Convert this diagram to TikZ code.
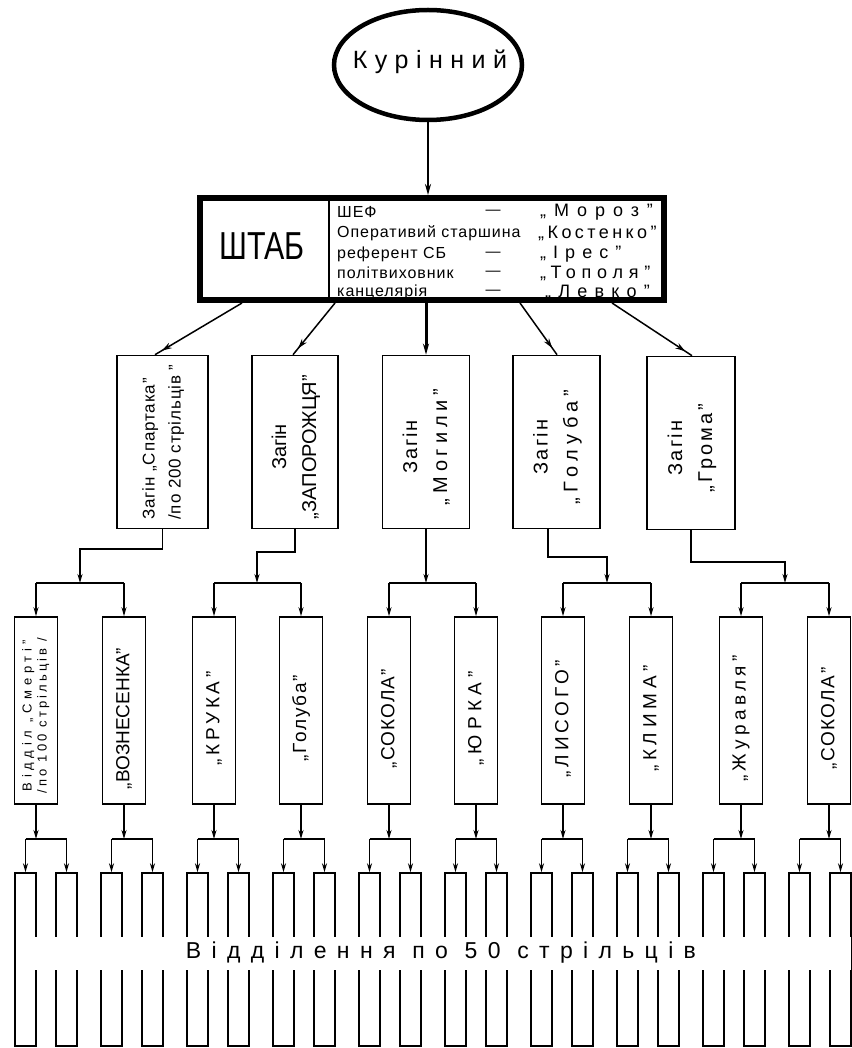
\documentclass[tikz,border=0pt]{standalone}
\usepackage{fontspec}
\usepackage{graphicx}
\setmainfont{Liberation Sans}
\newfontfamily\myKur[LetterSpace=30]{Liberation Sans}
\newfontfamily\myStL[LetterSpace=6]{Liberation Sans}
\newfontfamily\myStN{Liberation Sans}
\newfontfamily\myZ{Liberation Sans}
\newfontfamily\myV{Liberation Sans}
\newfontfamily\myBand[LetterSpace=45]{Liberation Sans}
\usetikzlibrary{shapes.geometric,arrows.meta,decorations.markings}
% zagin text: size, ls1, line1, ls2, line2
\newcommand{\myzt}[5]{\rotatebox{90}{\myZ\fontsize{#1}{30}\selectfont\begin{tabular}{@{}c@{}}{\addfontfeature{LetterSpace=#2}#3}\\{\addfontfeature{LetterSpace=#4}#5}\end{tabular}\hspace*{10pt}}}
% level-3 text: ls, text
\newcommand{\myvt}[2]{\rotatebox{90}{\myV\fontsize{19}{22}\selectfont\addfontfeature{LetterSpace=#1}#2\hspace*{16pt}}}
\newcommand{\myname}[2]{{\addfontfeature{LetterSpace=#1}#2}}
\tikzset{
 conn/.style={line width=1.5pt},
 arr/.style={line width=1.5pt,-{Stealth[length=9pt,width=5pt]}},
 darr/.style={line width=1.5pt,postaction={decorate},decoration={markings,mark=at position -8pt with {\arrow{Stealth[length=10pt,width=6pt]}}}},
 zbox/.style={draw,line width=1.6pt,inner sep=0pt,minimum width=87,minimum height=173},
 vbox/.style={draw,line width=1.6pt,inner sep=0pt,minimum width=43,minimum height=187},
 sbox/.style={draw,line width=1.5pt,inner sep=0pt,minimum width=21,minimum height=173},
 stl/.style={anchor=west,inner sep=0pt,font=\myStL\fontsize{16}{18}\selectfont},
 stn/.style={anchor=west,inner sep=0pt,font=\myStN\fontsize{18}{19}\selectfont},
 std/.style={inner sep=0pt,font=\myStN\fontsize{15}{16}\selectfont},
}
\begin{document}
\begin{tikzpicture}[x=1pt,y=-1pt]
\useasboundingbox (0,0) rectangle (851,1048);
% top
\node[ellipse,draw,line width=4.5pt,minimum width=188,minimum height=110,inner sep=0pt] (kur) at (428,65) {};
\node[inner sep=0pt] (kurt) at (430,62) {\myKur\fontsize{25}{28}\selectfont Курінний};
\node[draw,line width=6pt,minimum width=464,minimum height=102,inner sep=0pt] (staff) at (432,249) {};
\draw[line width=1.6pt] (staff.north -| 329,0) -- (staff.south -| 329,0);
\node[inner sep=0pt] (shtab) at (262,246) {\scalebox{0.78}[1]{\fontsize{39}{40}\selectfont ШТАБ}};
\node[stl] (l1) at (337,212) {ШЕФ};
\node[std] (d1) at (493,212) {—};
\node[stn] (n1) at (540,212) {\myname{44}{„Мороз”}};
\node[stl] (l2) at (337,233) {Оперативий старшина};
\node[stn] (n2) at (538,233) {\myname{19}{„Костенко”}};
\node[stl] (l3) at (337,254) {референт СБ};
\node[std] (d3) at (493,254) {—};
\node[stn] (n3) at (540,254) {\myname{39}{„Ірес”}};
\node[stl] (l4) at (337,273) {політвиховник};
\node[std] (d4) at (493,273) {—};
\node[stn] (n4) at (540,273) {\myname{32}{„Тополя”}};
\node[stl] (l5) at (337,292) {канцелярія};
\node[std] (d5) at (493,292) {—};
\node[stn] (n5) at (545,292) {\myname{40}{„Левко”}};
\draw[line width=2pt,-{Stealth[length=11pt,width=6pt]}] (kur.south) -- (staff.north -| kur.south);
% zagin
\node[zbox,minimum width=91] (z1) at (162.5,442) {\rotatebox{90}{\myZ\fontsize{17}{26}\selectfont\addfontfeature{LetterSpace=5}\begin{tabular}{@{}l@{}}Загін „Спартака”\\/по 200 стрільців ”\end{tabular}}};
\node[zbox,minimum width=86] (z2) at (295,442) {\myzt{20}{0}{Загін}{0}{„ЗАПОРОЖЦЯ”}};
\node[zbox] (z3) at (426,442) {\myzt{20}{10}{Загін}{24}{„Могили”}};
\node[zbox] (z4) at (556.5,442) {\myzt{20}{12}{Загін}{27}{„Голуба”}};
\node[zbox,minimum width=88] (z5) at (691,443) {\myzt{20}{12}{Загін}{15}{„Грома”}};
\draw[darr] (staff.south -| 242,0) -- (z1.north -| 155,0);
\draw[darr] (staff.south -| 335,0) -- (z2.north -| 293,0);
\draw[line width=3pt,-{Stealth[length=11pt,width=6pt]}] (staff.south -| z3.north) -- (z3.north);
\draw[darr] (staff.south -| 520,0) -- (z4.north -| 557,0);
\draw[darr] (staff.south -| 612,0) -- (z5.north -| 692,0);
% level 3
\node[vbox] (pa) at (36,710.5) {\rotatebox{90}{\myV\fontsize{13}{15}\selectfont\begin{tabular}{@{}c@{}}{\addfontfeature{LetterSpace=36}Відділ „Смерті”}\\{\addfontfeature{LetterSpace=24}/по 100 стрільців /}\end{tabular}\hspace*{10pt}}};
\node[vbox] (pb) at (124,710.5) {\myvt{0}{„ВОЗНЕСЕНКА”}};
\node[vbox] (pc) at (214,710.5) {\myvt{20}{„КРУКА”}};
\node[vbox] (pd) at (301,710.5) {\myvt{10}{„Голуба”}};
\node[vbox] (pe) at (389,710.5) {\myvt{6}{„СОКОЛА”}};
\node[vbox] (pf) at (476,710.5) {\myvt{28}{„ЮРКА”}};
\node[vbox] (pg) at (563,710.5) {\myvt{20}{„ЛИСОГО”}};
\node[vbox] (ph) at (651,710.5) {\myvt{25}{„КЛИМА”}};
\node[vbox] (pi) at (741,710.5) {\myvt{23}{„Журавля”}};
\node[vbox] (pj) at (829,710.5) {\myvt{8}{„СОКОЛА”}};
\coordinate (y583) at (0,583);
\coordinate (y839) at (0,839);
\coordinate (j1) at (80,549);
\coordinate (j2) at (257,552);
\coordinate (j4) at (607,557);
\coordinate (j5) at (785,562);
\draw[arr] (z1.south) |- (j1) -- (j1 |- y583);
\draw[arr] (z2.south) |- (j2) -- (j2 |- y583);
\draw[arr] (z3.south) -- (z3.south |- y583);
\draw[arr] (z4.south -| 548,0) |- (j4) -- (j4 |- y583);
\draw[arr] (z5.south) |- (j5) -- (j5 |- y583);
\foreach \l/\r in {pa/pb,pc/pd,pe/pf,pg/ph,pi/pj}{
  \draw[conn] (\l.north |- y583) -- (\r.north |- y583);
  \draw[arr] (\l.north |- y583) -- (\l.north);
  \draw[arr] (\r.north |- y583) -- (\r.north);
}
% level 4
\foreach \p [count=\k from 0] in {pa,pb,pc,pd,pe,pf,pg,ph,pi,pj}{
  \pgfmathsetmacro\xl{25.5+86*\k}
  \pgfmathsetmacro\xr{66.5+86*\k}
  \node[sbox] (ql\k) at (\xl,959.5) {};
  \node[sbox] (qr\k) at (\xr,959.5) {};
  \draw[arr] (\p.south) -- (\p.south |- y839);
  \draw[conn] (ql\k.north |- y839) -- (qr\k.north |- y839);
  \draw[arr] (ql\k.north |- y839) -- (ql\k.north);
  \draw[arr] (qr\k.north |- y839) -- (qr\k.north);
}
\fill[white] (22,937) rectangle (851,970);
\node[inner sep=0pt] (band) at (441,953) {\myBand\fontsize{23}{26}\selectfont Відділення по 50 стрільців};
\end{tikzpicture}
\end{document}
